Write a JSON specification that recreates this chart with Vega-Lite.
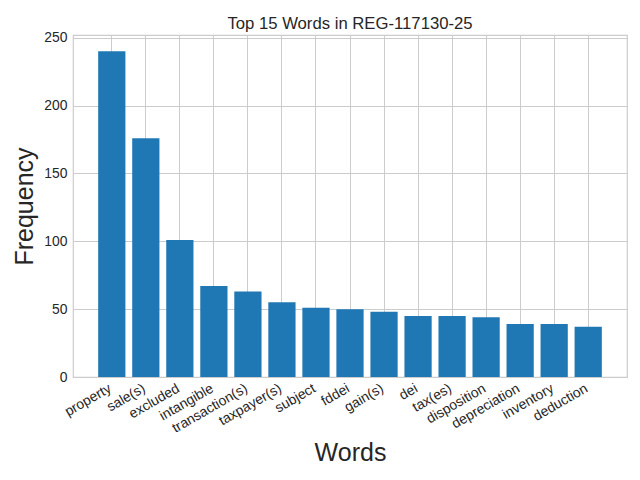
{
  "$schema": "https://vega.github.io/schema/vega-lite/v6.json",
  "description": "Top 15 words bar chart",
  "width": 554,
  "height": 342,
  "autosize": "none",
  "padding": {"left": 73, "top": 35, "right": 13, "bottom": 103},
  "background": "white",
  "config": {
    "font": "Liberation Sans",
    "view": {"stroke": "#cccccc", "strokeWidth": 1.2},
    "axis": {
      "domain": false,
      "ticks": false,
      "grid": true,
      "gridColor": "#cccccc",
      "gridWidth": 1,
      "labelColor": "#262626",
      "labelFontSize": 13.9,
      "titleColor": "#262626",
      "titleFontSize": 25,
      "titleFontWeight": "normal"
    }
  },
  "title": {
    "text": "Top 15 Words in REG-117130-25",
    "fontSize": 16.7,
    "fontWeight": "normal",
    "color": "#262626",
    "anchor": "middle",
    "frame": "group",
    "baseline": "alphabetic",
    "offset": -15
  },
  "data": {
    "values": [
      {"word": "property", "n": 240},
      {"word": "sale(s)", "n": 176},
      {"word": "excluded", "n": 101},
      {"word": "intangible", "n": 67},
      {"word": "transaction(s)", "n": 63},
      {"word": "taxpayer(s)", "n": 55},
      {"word": "subject", "n": 51},
      {"word": "fddei", "n": 50},
      {"word": "gain(s)", "n": 48},
      {"word": "dei", "n": 45},
      {"word": "tax(es)", "n": 45},
      {"word": "disposition", "n": 44},
      {"word": "depreciation", "n": 39},
      {"word": "inventory", "n": 39},
      {"word": "deduction", "n": 37}
    ]
  },
  "mark": {"type": "bar", "color": "#1f77b4"},
  "encoding": {
    "x": {
      "field": "word",
      "type": "nominal",
      "sort": null,
      "title": "Words",
      "scale": {"paddingInner": 0.2, "paddingOuter": 0.74},
      "axis": {
        "labelAngle": 330,
        "labelAlign": "right",
        "labelBaseline": "top",
        "labelPadding": 4,
        "labelOffset": -5,
        "titleY": 83,
        "titleBaseline": "alphabetic"
      }
    },
    "y": {
      "field": "n",
      "type": "quantitative",
      "title": "Frequency",
      "scale": {"domain": [0, 252], "nice": false},
      "axis": {
        "values": [0, 50, 100, 150, 200, 250],
        "labelPadding": 6,
        "titleX": -41,
        "titleBaseline": "alphabetic"
      }
    },
    "tooltip": [
      {"field": "word", "type": "nominal", "title": "Word"},
      {"field": "n", "type": "quantitative", "title": "Frequency"}
    ]
  }
}
